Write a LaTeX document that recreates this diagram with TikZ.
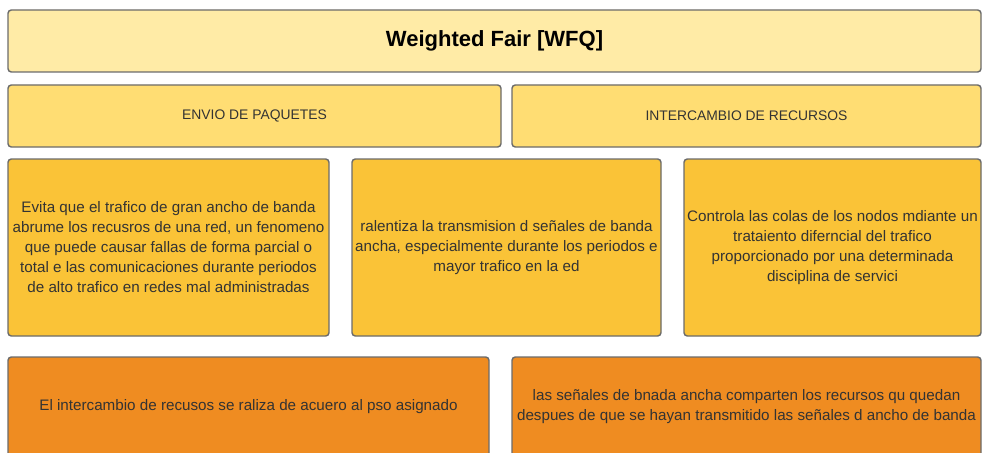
\documentclass[tikz,border=0pt]{standalone}
\usepackage{fontspec}
\setmainfont{Liberation Sans}
\definecolor{bordergray}{HTML}{6B6B6B}
\definecolor{txtgray}{HTML}{333333}
\definecolor{fillA}{HTML}{FFEBA6}
\definecolor{fillB}{HTML}{FFDD73}
\definecolor{fillC}{HTML}{FAC337}
\definecolor{fillD}{HTML}{EF8C21}
\tikzset{
  boxbase/.style={draw=bordergray, line width=1.1pt, rounded corners=2.5pt, inner sep=0pt, align=center,
    text=txtgray, font=\fontsize{11.4}{15}\selectfont},
  titlebox/.style={boxbase, fill=fillA, text=black, font=\fontsize{16.5}{20}\selectfont\bfseries},
  headbox/.style={boxbase, fill=fillB, font=\fontsize{10.4}{15}\selectfont},
  midbox/.style={boxbase, fill=fillC},
  lowbox/.style={boxbase, fill=fillD}
}
\begin{document}
\begin{tikzpicture}[x=0.75pt,y=-0.75pt]
\useasboundingbox (0,0) rectangle (982,453);
\clip (0,0) rectangle (982,453);
\node[titlebox, minimum width=729.75pt, minimum height=46.5pt] (title) at (494.5,41) {Weighted Fair [WFQ]};
\node[headbox, minimum width=369.75pt, minimum height=46.5pt] (envio) at (254.5,116) {ENVIO DE PAQUETES};
\node[headbox, minimum width=351.75pt, minimum height=46.5pt] (inter) at (746.5,116) {INTERCAMBIO DE RECURSOS};
\node[midbox, minimum width=240.75pt, minimum height=132.75pt] (m1) at (168.5,247.5)
  {Evita que el trafico de gran ancho de banda\\abrume los recusros de una red, un fenomeno\\que puede causar fallas de forma parcial o\\total e las comunicaciones durante periodos\\de alto trafico en redes mal administradas};
\node[midbox, minimum width=231.75pt, minimum height=132.75pt] (m2) at (506.5,247.5)
  {ralentiza la transmision d señales de banda\\ancha, especialmente durante los periodos e\\mayor trafico en la ed};
\node[midbox, minimum width=222.75pt, minimum height=132.75pt] (m3) at (832.5,247.5)
  {Controla las colas de los nodos mdiante un\\trataiento diferncial del trafico\\proporcionado por una determinada\\disciplina de servici};
\node[lowbox, minimum width=360.75pt, minimum height=75pt] (l1) at (248.5,407)
  {El intercambio de recusos se raliza de acuero al pso asignado};
\node[lowbox, minimum width=351.75pt, minimum height=75pt] (l2) at (746.5,407)
  {las señales de bnada ancha comparten los recursos qu quedan\\despues de que se hayan transmitido las señales d ancho de banda};
\end{tikzpicture}
\end{document}
